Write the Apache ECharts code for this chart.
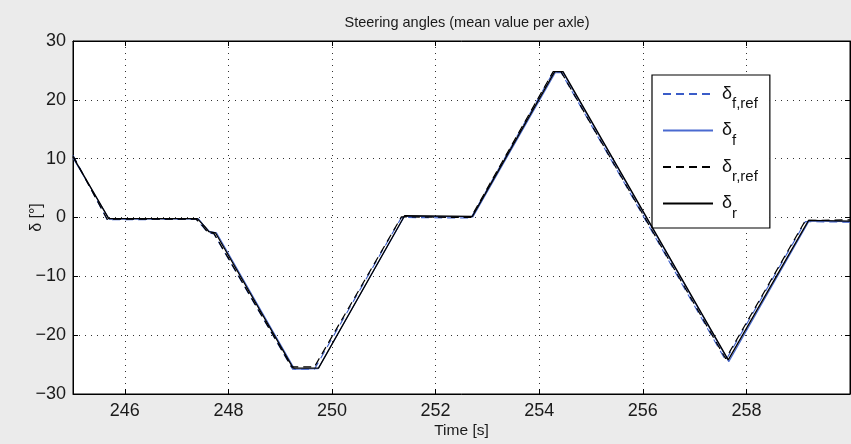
<!DOCTYPE html>
<html>
<head>
<meta charset="utf-8">
<script src="https://cdn.jsdelivr.net/npm/echarts@6/dist/echarts.min.js"></script>
<style>
html,body{margin:0;padding:0;background:#ebebeb;}
#chart{width:851px;height:444px;}
</style>
</head>
<body>
<div id="chart"></div>
<script>
// ---- data ----
var titleText = 'Steering angles (mean value per axle)';
var xAxisName = 'Time [s]';
var yAxisName = 'δ [°]';
var xTicks = [246, 248, 250, 252, 254, 256, 258];
var yTicks = [-30, -20, -10, 0, 10, 20, 30];
var seriesNames = ['δf,ref', 'δf', 'δr,ref', 'δr'];
var legendSubs = ['f,ref', 'f', 'r,ref', 'r'];

// δ_f,ref (blue dashed)
var tFRef = [245, 245.66, 247.38, 247.50, 247.60, 247.72, 249.24, 249.66, 251.34, 252.68, 254.27, 254.42, 257.60, 259.14, 260];
var vFRef = [10.6, -0.4, -0.3, -1.5, -2.5, -2.8, -25.8, -25.8, 0.0, -0.1, 24.7, 24.7, -24.3, -0.7, -0.8];
// δ_f (blue solid)
var tF = [245, 245.70, 247.42, 247.56, 247.64, 247.77, 249.28, 249.73, 251.40, 252.72, 254.31, 254.46, 257.66, 259.21, 260];
var vF = [10.1, -0.3, -0.2, -1.7, -2.4, -2.6, -25.8, -25.7, 0.2, 0.1, 24.6, 24.6, -24.5, -0.6, -0.7];
// δ_r,ref (black dashed)
var tRRef = [245, 245.66, 247.38, 247.50, 247.60, 247.72, 249.22, 249.66, 251.34, 252.68, 254.27, 254.42, 257.60, 259.14, 260];
var vRRef = [10.5, -0.3, -0.3, -1.4, -2.5, -2.7, -25.4, -25.4, 0.1, 0.0, 24.8, 24.8, -24.0, -0.5, -0.4];
// δ_r (black solid)
var tR = [245, 245.69, 247.40, 247.55, 247.62, 247.75, 249.25, 249.74, 251.40, 252.71, 254.30, 254.46, 257.65, 259.20, 260];
var vR = [10.3, -0.2, -0.2, -1.6, -2.4, -2.6, -25.6, -25.6, 0.3, 0.2, 24.8, 24.8, -24.2, -0.5, -0.6];

function zip(t, v) { return t.map(function (x, i) { return [x, v[i]]; }); }
function minus(v) { return String(v).replace('-', '\u2212'); }

var FONT = 'Liberation Sans';
var chart = echarts.init(document.getElementById('chart'), null, {renderer: 'canvas'});

var gridLine = {show: true, lineStyle: {color: '#333', width: 1, type: [1, 5]}};

var option = {
  backgroundColor: '#ebebeb',
  animation: false,
  textStyle: {fontFamily: FONT},
  title: {
    text: titleText,
    left: 462, top: 10,
    textAlign: 'center',
    textStyle: {fontFamily: FONT, fontSize: 14.5, fontWeight: 'normal', color: '#1a1a1a'}
  },
  grid: {
    left: 73, right: 1, top: 41, bottom: 47,
    show: true, backgroundColor: '#ffffff', borderColor: '#000', borderWidth: 1
  },
  legend: {
    orient: 'vertical',
    left: 652, top: 75,
    padding: [10, 12, 7, 10],
    backgroundColor: '#ffffff',
    borderColor: '#000', borderWidth: 1.2,
    itemWidth: 50, itemHeight: 14,
    itemGap: 10,
    itemStyle: {opacity: 0},
    data: seriesNames,
    formatter: function (name) {
      return '{d|δ}{s|' + legendSubs[seriesNames.indexOf(name)] + '}';
    },
    textStyle: {
      fontFamily: FONT,
      rich: {
        d: {fontSize: 18, color: '#111', fontFamily: FONT, padding: [0, 0, 0, 4]},
        s: {fontSize: 15, color: '#111', fontFamily: FONT, padding: [20, 0, 0, 0]}
      }
    }
  },
  xAxis: [{
    type: 'value', min: 245, max: 260, position: 'bottom',
    name: xAxisName, nameLocation: 'middle', nameGap: 29, nameMoveOverlap: false,
    nameTextStyle: {fontFamily: FONT, fontSize: 15.5, color: '#1a1a1a'},
    axisLine: {show: true, onZero: false, lineStyle: {color: '#000', width: 1}},
    axisTick: {show: true, inside: true, length: 5, customValues: xTicks, lineStyle: {color: '#000'}},
    axisLabel: {show: true, customValues: xTicks, margin: 8, fontFamily: FONT, fontSize: 18, color: '#1a1a1a'},
    splitLine: gridLine
  }, {
    type: 'value', min: 245, max: 260, position: 'top',
    axisLine: {show: true, onZero: false, lineStyle: {color: '#000', width: 1}},
    axisTick: {show: true, inside: true, length: 5, customValues: xTicks, lineStyle: {color: '#000'}},
    axisLabel: {show: false},
    splitLine: {show: false}
  }],
  yAxis: [{
    type: 'value', min: -30, max: 30, interval: 10, position: 'left',
    name: yAxisName, nameLocation: 'middle', nameGap: 28, nameRotate: 90, nameMoveOverlap: false,
    nameTextStyle: {fontFamily: FONT, fontSize: 16, color: '#1a1a1a'},
    axisLine: {show: true, onZero: false, lineStyle: {color: '#000', width: 1}},
    axisTick: {show: true, inside: true, length: 5, lineStyle: {color: '#000'}},
    axisLabel: {show: true, margin: 7, fontFamily: FONT, fontSize: 18, color: '#1a1a1a', formatter: minus},
    splitLine: gridLine
  }, {
    type: 'value', min: -30, max: 30, interval: 10, position: 'right',
    axisLine: {show: true, onZero: false, lineStyle: {color: '#000', width: 1}},
    axisTick: {show: true, inside: true, length: 5, lineStyle: {color: '#000'}},
    axisLabel: {show: false},
    splitLine: {show: false}
  }],
  series: [
    {name: seriesNames[0], type: 'line', symbol: 'none', data: zip(tFRef, vFRef),
     lineStyle: {color: '#3a5cc8', width: 1.1, type: [8, 5]}, itemStyle: {color: '#3a5cc8'}, z: 2},
    {name: seriesNames[1], type: 'line', symbol: 'none', data: zip(tF, vF),
     lineStyle: {color: '#4a6ad0', width: 1.1, type: 'solid'}, itemStyle: {color: '#4a6ad0'}, z: 3},
    {name: seriesNames[2], type: 'line', symbol: 'none', data: zip(tRRef, vRRef),
     lineStyle: {color: '#000', width: 1.2, type: [8, 5]}, itemStyle: {color: '#000'}, z: 4},
    {name: seriesNames[3], type: 'line', symbol: 'none', data: zip(tR, vR),
     lineStyle: {color: '#000', width: 1.3, type: 'solid'}, itemStyle: {color: '#000'}, z: 5}
  ]
};
chart.setOption(option);
</script>
</body>
</html>
